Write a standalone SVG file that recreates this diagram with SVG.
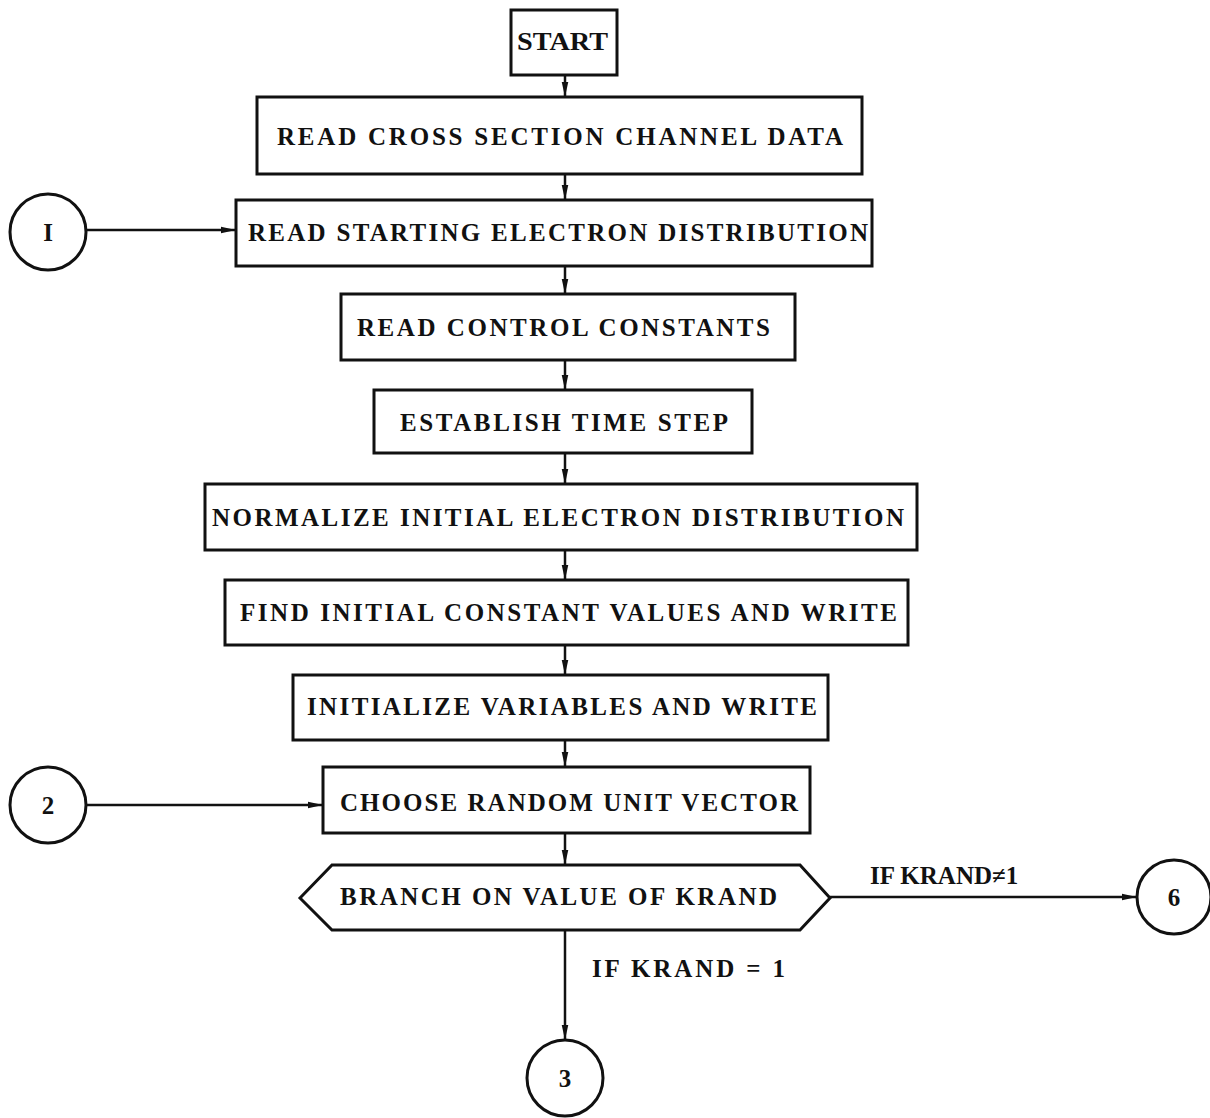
<svg xmlns="http://www.w3.org/2000/svg" width="1210" height="1118" viewBox="0 0 1210 1118">
<style>
.b{fill:#fff;stroke:#111;stroke-width:3}
.c{fill:#fff;stroke:#111;stroke-width:3}
.t{font-family:"Liberation Serif",serif;font-weight:bold;font-size:25px;fill:#111;text-anchor:start}
.n{font-family:"Liberation Serif",serif;font-weight:bold;font-size:25px;fill:#111;text-anchor:middle}
.l{fill:none;stroke:#111;stroke-width:2.5}
</style>
<defs>
<marker id="ah" viewBox="0 0 16 10" refX="15" refY="5" markerWidth="6" markerHeight="4" orient="auto" markerUnits="strokeWidth">
<path d="M0,1.5 L16,5 L0,8.5 z" fill="#111"/>
</marker>
</defs>
<rect width="1210" height="1118" fill="#fff"/>
<g id="connectors">
<line class="l" x1="565" y1="75" x2="565" y2="96" marker-end="url(#ah)"/>
<line class="l" x1="565" y1="174" x2="565" y2="199" marker-end="url(#ah)"/>
<line class="l" x1="86" y1="230" x2="235" y2="230" marker-end="url(#ah)"/>
<line class="l" x1="565" y1="266" x2="565" y2="293" marker-end="url(#ah)"/>
<line class="l" x1="565" y1="360" x2="565" y2="389" marker-end="url(#ah)"/>
<line class="l" x1="565" y1="453" x2="565" y2="483" marker-end="url(#ah)"/>
<line class="l" x1="565" y1="550" x2="565" y2="579" marker-end="url(#ah)"/>
<line class="l" x1="565" y1="645" x2="565" y2="674" marker-end="url(#ah)"/>
<line class="l" x1="86" y1="805" x2="322" y2="805" marker-end="url(#ah)"/>
<line class="l" x1="565" y1="740" x2="565" y2="766" marker-end="url(#ah)"/>
<line class="l" x1="565" y1="833" x2="565" y2="864" marker-end="url(#ah)"/>
<line class="l" x1="830" y1="897" x2="1136" y2="897" marker-end="url(#ah)"/>
<line class="l" x1="565" y1="930" x2="565" y2="1039" marker-end="url(#ah)"/>
<text class="t" x="870" y="884" font-size="21">IF KRAND≠1</text>
<text class="t" x="592" y="977" textLength="193" lengthAdjust="spacing" font-size="22">IF KRAND = 1</text>
</g>
<g id="start"><rect class="b" x="511" y="10" width="106" height="65"/><text class="t" x="517" y="50" textLength="91" lengthAdjust="spacingAndGlyphs">START</text></g>
<g id="read-cross"><rect class="b" x="257" y="97" width="605" height="77"/><text class="t" x="277" y="145" textLength="566" lengthAdjust="spacing">READ CROSS SECTION  CHANNEL DATA</text></g>
<g id="circle-1"><circle class="c" cx="48" cy="232" r="38"/><text class="n" x="48" y="241">I</text></g>
<g id="read-starting"><rect class="b" x="236" y="200" width="636" height="66"/><text class="t" x="248" y="241" textLength="620" lengthAdjust="spacing">READ STARTING ELECTRON DISTRIBUTION</text></g>
<g id="read-control"><rect class="b" x="341" y="294" width="454" height="66"/><text class="t" x="357" y="336" textLength="413" lengthAdjust="spacing">READ CONTROL CONSTANTS</text></g>
<g id="establish"><rect class="b" x="374" y="390" width="378" height="63"/><text class="t" x="400" y="431" textLength="328" lengthAdjust="spacing">ESTABLISH TIME STEP</text></g>
<g id="normalize"><rect class="b" x="205" y="484" width="712" height="66"/><text class="t" x="212" y="526" textLength="692" lengthAdjust="spacing">NORMALIZE INITIAL ELECTRON DISTRIBUTION</text></g>
<g id="find"><rect class="b" x="225" y="580" width="683" height="65"/><text class="t" x="240" y="621" textLength="657" lengthAdjust="spacing">FIND INITIAL CONSTANT VALUES AND WRITE</text></g>
<g id="initialize"><rect class="b" x="293" y="675" width="535" height="65"/><text class="t" x="307" y="715" textLength="510" lengthAdjust="spacing">INITIALIZE VARIABLES AND WRITE</text></g>
<g id="circle-2"><circle class="c" cx="48" cy="805" r="38"/><text class="n" x="48" y="814">2</text></g>
<g id="choose"><rect class="b" x="323" y="767" width="487" height="66"/><text class="t" x="340" y="811" textLength="458" lengthAdjust="spacing">CHOOSE RANDOM UNIT VECTOR</text></g>
<g id="branch"><polygon class="b" points="300,898 332,865 800,865 830,898 800,930 332,930"/><text class="t" x="340" y="905" textLength="437" lengthAdjust="spacing">BRANCH ON VALUE OF KRAND</text></g>
<g id="circle-6"><circle class="c" cx="1174" cy="897" r="37"/><text class="n" x="1174" y="906">6</text></g>
<g id="circle-3"><circle class="c" cx="565" cy="1078" r="38"/><text class="n" x="565" y="1087">3</text></g>
</svg>
